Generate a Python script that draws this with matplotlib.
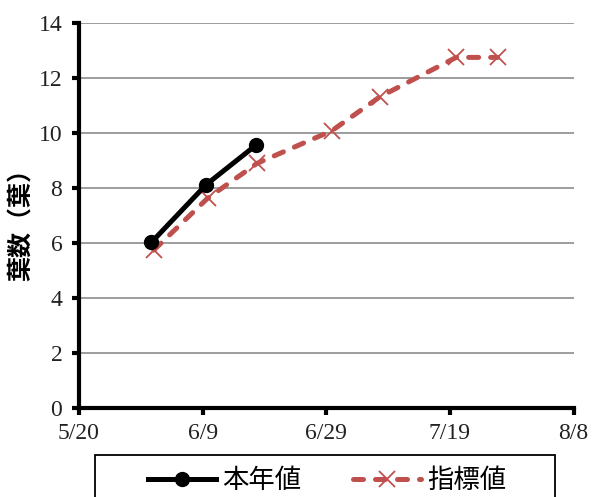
import matplotlib
matplotlib.use("Agg")
import matplotlib.pyplot as plt
from matplotlib.patches import Rectangle

# days counted from 5/20
honnen_days = [11.7, 20.6, 28.6]
honnen_leaves = [6.02, 8.13, 9.56]

shihyo_days = [12.1, 20.8, 28.8, 40.9, 48.7, 61.0, 67.7]
shihyo_leaves = [5.74, 7.63, 8.90, 10.09, 11.33, 12.76, 12.76]

tick_days = [0, 20, 40, 60, 80]
tick_labels = ["5/20", "6/9", "6/29", "7/19", "8/8"]

RED = "#C0504D"
JP = ["Noto Sans CJK JP", "DejaVu Sans"]

fig = plt.figure(figsize=(5.92, 4.97), dpi=100)
ax = fig.add_axes([0.1334, 0.1797, 0.969 - 0.1334, 0.953 - 0.1797])

ax.plot(shihyo_days, shihyo_leaves, color=RED, lw=3.6, dashes=(2.0, 2.4),
        dash_capstyle="round", marker="x", markersize=12, mew=1.3,
        label="指標値", zorder=3)
ax.plot(honnen_days, honnen_leaves, color="black", lw=3.6, marker="o",
        markersize=10, label="本年値", zorder=4)

ax.set_xlim(0, 80)
ax.set_ylim(0, 14)
ax.set_yticks(range(0, 15, 2))
ax.set_xticks(tick_days)
ax.set_xticklabels(tick_labels)
ax.grid(axis="y", color="#8c8c8c", lw=1.2)
ax.set_axisbelow(True)

for side in ("top", "right"):
    ax.spines[side].set_visible(False)
for side in ("left", "bottom"):
    ax.spines[side].set_linewidth(3)
    ax.spines[side].set_zorder(5)

ax.tick_params(axis="both", direction="out", length=5, width=3, color="black",
               labelsize=17, labelcolor="#222222")
ax.tick_params(axis="y", pad=7)
ax.tick_params(axis="x", pad=6)
for lbl in ax.get_xticklabels() + ax.get_yticklabels():
    lbl.set_family("Liberation Serif")

fig.text(22 / 592, 0.561, "葉数（葉）", rotation=90, ha="center", va="center",
         fontsize=18, fontweight="bold", family=JP)

# legend box runs off the bottom edge
fig.patches.append(Rectangle((95 / 592, -0.05), 460 / 592, 0.0845 + 0.05,
                             transform=fig.transFigure, fill=False,
                             edgecolor="black", lw=1.3))
handles, labels = ax.get_legend_handles_labels()
fig.legend(handles[::-1], labels[::-1], loc="center left",
           bbox_to_anchor=(148 / 592, 0.033), ncol=2, frameon=False,
           borderpad=0, borderaxespad=0, handlelength=2.58,
           handletextpad=0.22, columnspacing=1.97,
           prop={"family": JP, "size": 19})

fig.savefig("out.png", dpi=100)
